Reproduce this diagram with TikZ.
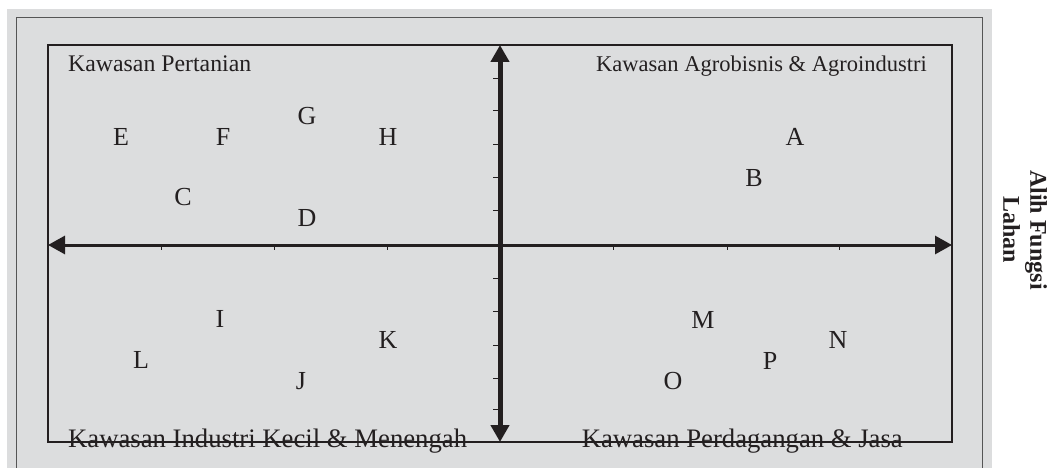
\documentclass[tikz,border=0pt]{standalone}
\usepackage{fontspec}
\setmainfont{Liberation Serif}
\usetikzlibrary{arrows.meta}
\definecolor{bg}{RGB}{220,221,222}
\definecolor{ink}{RGB}{35,31,32}
\definecolor{frame}{RGB}{85,85,85}
\begin{document}
\begin{tikzpicture}[x=1pt,y=-1pt,
  lab/.style={text=ink, inner sep=0pt},
  letter/.style={font=\fontsize{26}{30}\selectfont, text=ink, inner sep=0pt},
  axisarrow/.style={draw=ink, {Triangle[length=17pt,width=18pt]}-{Triangle[length=17pt,width=18pt]}},
  tick/.style={draw=ink, line width=1pt}]
\useasboundingbox (0,0) rectangle (1053,468);
% background
\fill[bg] (7,9) rectangle (992,468);
\draw[frame, line width=1pt] (16,468) -- (16,18) -- (982,18) -- (982,468);
\draw[ink, line width=2pt] (48,45) rectangle (952,442);
% axis endpoints
\coordinate (L) at (48,245);
\coordinate (R) at (952,245);
\coordinate (T) at (500,45);
\coordinate (B) at (500,442);
% ticks
\foreach \y in {79,111,145,178,211,278,311,345,378,409}
  \draw[tick] (493,\y) -- (498,\y);
\foreach \x in {161,274,387,613,727,839}
  \draw[tick] (\x,246) -- (\x,250);
% axes
\draw[axisarrow, line width=3pt] (L) -- (R);
\draw[axisarrow, line width=5pt] (B) -- (T);
% quadrant labels
\node[lab, font=\fontsize{23.8}{28}\selectfont, anchor=base west] (qpt) at (68,72) {Kawasan Pertanian};
\node[lab, font=\fontsize{22.5}{28}\selectfont, anchor=base east] (qag) at (927,72) {Kawasan Agrobisnis \& Agroindustri};
\node[lab, font=\fontsize{26.7}{30}\selectfont, anchor=base west] (qik) at (68,447) {Kawasan Industri Kecil \& Menengah};
\node[lab, font=\fontsize{26.7}{30}\selectfont, anchor=base east] (qpj) at (903,447) {Kawasan Perdagangan \& Jasa};
% letters
\node[letter] (E) at (121,137) {E};
\node[letter] (F) at (223,137) {F};
\node[letter] (G) at (307,116) {G};
\node[letter] (H) at (388,137) {H};
\node[letter] (C) at (183,197) {C};
\node[letter] (D) at (307,218) {D};
\node[letter] (A) at (795,137) {A};
\node[letter] (Bl) at (754,178) {B};
\node[letter] (I) at (220,319) {I};
\node[letter] (K) at (388,340) {K};
\node[letter] (Ll) at (141,360) {L};
\node[letter] (J) at (301,381) {J};
\node[letter] (M) at (703,320) {M};
\node[letter] (N) at (838,340) {N};
\node[letter] (P) at (770,361) {P};
\node[letter] (O) at (673,381) {O};
% side label
\node[font=\fontsize{24}{27}\selectfont\bfseries, text=ink, align=center, rotate=-90, inner sep=0pt] (alih) at (1025,230) {Alih Fungsi\\Lahan};
\end{tikzpicture}
\end{document}
